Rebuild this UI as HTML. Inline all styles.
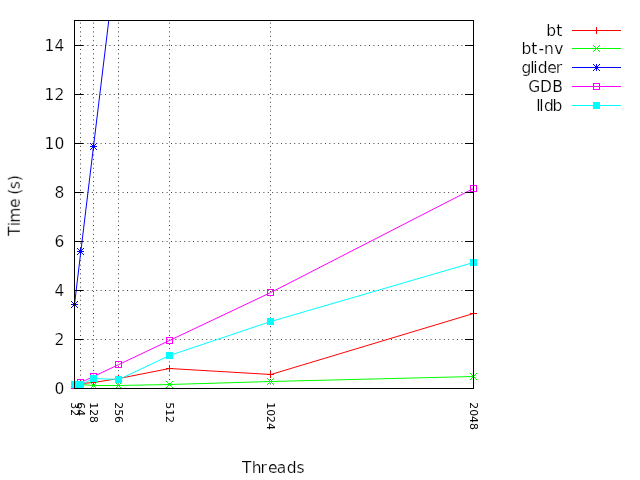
<!DOCTYPE html>
<html lang="en"><head><meta charset="utf-8"><title>Threads vs Time</title>
<style>html,body{margin:0;padding:0;background:#fff}body{width:640px;height:480px;overflow:hidden}svg{display:block}text{font-family:"DejaVu Sans", "Liberation Sans", sans-serif;fill:#000}</style></head><body>
<svg width="640" height="480" viewBox="0 0 640 480">
<rect width="640" height="480" fill="#fff"/>
<g stroke="#000" stroke-opacity="0.75" stroke-width="1" stroke-dasharray="1 3.4" stroke-dashoffset="0.3" fill="none">
<path d="M74.5 339.5H473.5"/>
<path d="M74.5 290.5H473.5"/>
<path d="M74.5 241.5H473.5"/>
<path d="M74.5 192.5H473.5"/>
<path d="M74.5 143.5H473.5"/>
<path d="M74.5 94.5H473.5"/>
<path d="M74.5 45.5H473.5"/>
<path d="M80.5 388.5V20.5"/>
<path d="M93.5 388.5V20.5"/>
<path d="M118.5 388.5V20.5"/>
<path d="M169.5 388.5V20.5"/>
<path d="M270.5 388.5V20.5"/>
</g>
<defs><clipPath id="c"><rect x="74.0" y="20.0" width="400.0" height="369.0"/></clipPath></defs>
<g><path d="M74.5 384.5 L80.83 383.5 L93.5 382.5 L118.83 378.5 L169.5 368.5 L270.83 374.5 L473.5 313.5" stroke="#ff0000" stroke-width="1" fill="none" clip-path="url(#c)"/>
<path d="M71 384.5H78M74.5 381V388" stroke="#ff0000" fill="none"/>
<path d="M77 383.5H84M80.5 380V387" stroke="#ff0000" fill="none"/>
<path d="M90 382.5H97M93.5 379V386" stroke="#ff0000" fill="none"/>
<path d="M115 378.5H122M118.5 375V382" stroke="#ff0000" fill="none"/>
<path d="M166 368.5H173M169.5 365V372" stroke="#ff0000" fill="none"/>
<path d="M267 374.5H274M270.5 371V378" stroke="#ff0000" fill="none"/>
<path d="M470 313.5H477M473.5 310V317" stroke="#ff0000" fill="none"/>
</g>
<g><path d="M74.5 384.5 L80.83 384.5 L93.5 385.5 L118.83 385.5 L169.5 384.5 L270.83 381.5 L473.5 376.5" stroke="#00ff00" stroke-width="1" fill="none" clip-path="url(#c)"/>
<path d="M71 381L78 388M71 388L78 381" stroke="#00ff00" fill="none"/>
<path d="M77 381L84 388M77 388L84 381" stroke="#00ff00" fill="none"/>
<path d="M90 382L97 389M90 389L97 382" stroke="#00ff00" fill="none"/>
<path d="M115 382L122 389M115 389L122 382" stroke="#00ff00" fill="none"/>
<path d="M166 381L173 388M166 388L173 381" stroke="#00ff00" fill="none"/>
<path d="M267 378L274 385M267 385L274 378" stroke="#00ff00" fill="none"/>
<path d="M470 373L477 380M470 380L477 373" stroke="#00ff00" fill="none"/>
</g>
<g><path d="M74.5 304.5 L80.83 251.5 L93.5 146.5 L118.83 -62.5" stroke="#0000ff" stroke-width="1" fill="none" clip-path="url(#c)"/>
<path d="M71 304.5H78M74.5 301V308M71 301L78 308M71 308L78 301" stroke="#0000ff" fill="none"/>
<path d="M77 251.5H84M80.5 248V255M77 248L84 255M77 255L84 248" stroke="#0000ff" fill="none"/>
<path d="M90 146.5H97M93.5 143V150M90 143L97 150M90 150L97 143" stroke="#0000ff" fill="none"/>
</g>
<g><path d="M74.5 385.5 L80.83 382.5 L93.5 376.5 L118.83 364.5 L169.5 340.5 L270.83 292.5 L473.5 188.5" stroke="#ff00ff" stroke-width="1" fill="none" clip-path="url(#c)"/>
<rect x="71.5" y="382.5" width="6" height="6" stroke="#ff00ff" fill="none"/>
<rect x="77.5" y="379.5" width="6" height="6" stroke="#ff00ff" fill="none"/>
<rect x="90.5" y="373.5" width="6" height="6" stroke="#ff00ff" fill="none"/>
<rect x="115.5" y="361.5" width="6" height="6" stroke="#ff00ff" fill="none"/>
<rect x="166.5" y="337.5" width="6" height="6" stroke="#ff00ff" fill="none"/>
<rect x="267.5" y="289.5" width="6" height="6" stroke="#ff00ff" fill="none"/>
<rect x="470.5" y="185.5" width="6" height="6" stroke="#ff00ff" fill="none"/>
</g>
<g><path d="M74.5 384.5 L80.83 384.5 L93.5 378.5 L118.83 379.5 L169.5 355.5 L270.83 321.5 L473.5 262.5" stroke="#00ffff" stroke-width="1" fill="none" clip-path="url(#c)"/>
<rect x="71" y="381" width="7" height="7" fill="#00ffff"/>
<rect x="77" y="381" width="7" height="7" fill="#00ffff"/>
<rect x="90" y="375" width="7" height="7" fill="#00ffff"/>
<rect x="115" y="376" width="7" height="7" fill="#00ffff"/>
<rect x="166" y="352" width="7" height="7" fill="#00ffff"/>
<rect x="267" y="318" width="7" height="7" fill="#00ffff"/>
<rect x="470" y="259" width="7" height="7" fill="#00ffff"/>
</g>
<g stroke="#000" stroke-width="1" fill="none" shape-rendering="crispEdges">
<rect x="74.5" y="20.5" width="399.0" height="368.0"/>
<path d="M74.0 388.5H83.0M474.0 388.5H465.0"/>
<path d="M74.0 339.5H83.0M474.0 339.5H465.0"/>
<path d="M74.0 290.5H83.0M474.0 290.5H465.0"/>
<path d="M74.0 241.5H83.0M474.0 241.5H465.0"/>
<path d="M74.0 192.5H83.0M474.0 192.5H465.0"/>
<path d="M74.0 143.5H83.0M474.0 143.5H465.0"/>
<path d="M74.0 94.5H83.0M474.0 94.5H465.0"/>
<path d="M74.0 45.5H83.0M474.0 45.5H465.0"/>
</g>
<g style="will-change:transform" stroke="#fff" stroke-width="0.2">
<g font-size="15.5">
<text x="54.5" y="393.9">0</text>
<text x="54.5" y="344.9">2</text>
<text x="54.5" y="295.9">4</text>
<text x="54.5" y="246.9">6</text>
<text x="54.5" y="197.9">8</text>
<text x="44.4 54.5" y="148.9">10</text>
<text x="44.4 54.5" y="99.9">12</text>
<text x="44.4 54.5" y="50.9">14</text>
</g>
<g font-size="10.9" stroke="none">
<text transform="translate(70.75 402.2) rotate(90)">32</text>
<text transform="translate(77.08 402.2) rotate(90)">64</text>
<text transform="translate(89.75 402.2) rotate(90)">128</text>
<text transform="translate(115.08 402.2) rotate(90)">256</text>
<text transform="translate(165.75 402.2) rotate(90)">512</text>
<text transform="translate(267.08 402.2) rotate(90)">1024</text>
<text transform="translate(469.75 402.2) rotate(90)">2048</text>
</g>
<text font-size="15.5" y="472.5" x="241.9 251.7 260.6 267.95 276.7 286.67 296.56">Threads</text>
<text font-size="15.5" transform="translate(19.8 235.9) rotate(-90)" x="0 9.8 13.2 28 33 41.2 46.7 54.8">Time (s)</text>
<g font-size="15.5">
<text x="546.3 556.2" y="35.9">bt</text>
<text x="521.5 531.2 538.4 543.9 554.15" y="53.9">bt-nv</text>
<text x="521.5 530.35 533.25 537.67 547.3 555.7" y="72.9">glider</text>
<text x="528.2 540.1 552.2" y="91.9">GDB</text>
<text x="536.25 539.15 544 552.6" y="110.9">lldb</text>
</g>
</g>
<path d="M572 30.5H621" stroke="#ff0000" fill="none"/>
<path d="M593 30.5H600M596.5 27V34" stroke="#ff0000" fill="none"/>
<path d="M572 48.5H621" stroke="#00ff00" fill="none"/>
<path d="M593 45L600 52M593 52L600 45" stroke="#00ff00" fill="none"/>
<path d="M572 67.5H621" stroke="#0000ff" fill="none"/>
<path d="M593 67.5H600M596.5 64V71M593 64L600 71M593 71L600 64" stroke="#0000ff" fill="none"/>
<path d="M572 86.5H621" stroke="#ff00ff" fill="none"/>
<rect x="593.5" y="83.5" width="6" height="6" stroke="#ff00ff" fill="none"/>
<path d="M572 105.5H621" stroke="#00ffff" fill="none"/>
<rect x="593" y="102" width="7" height="7" fill="#00ffff"/>
</svg></body></html>
